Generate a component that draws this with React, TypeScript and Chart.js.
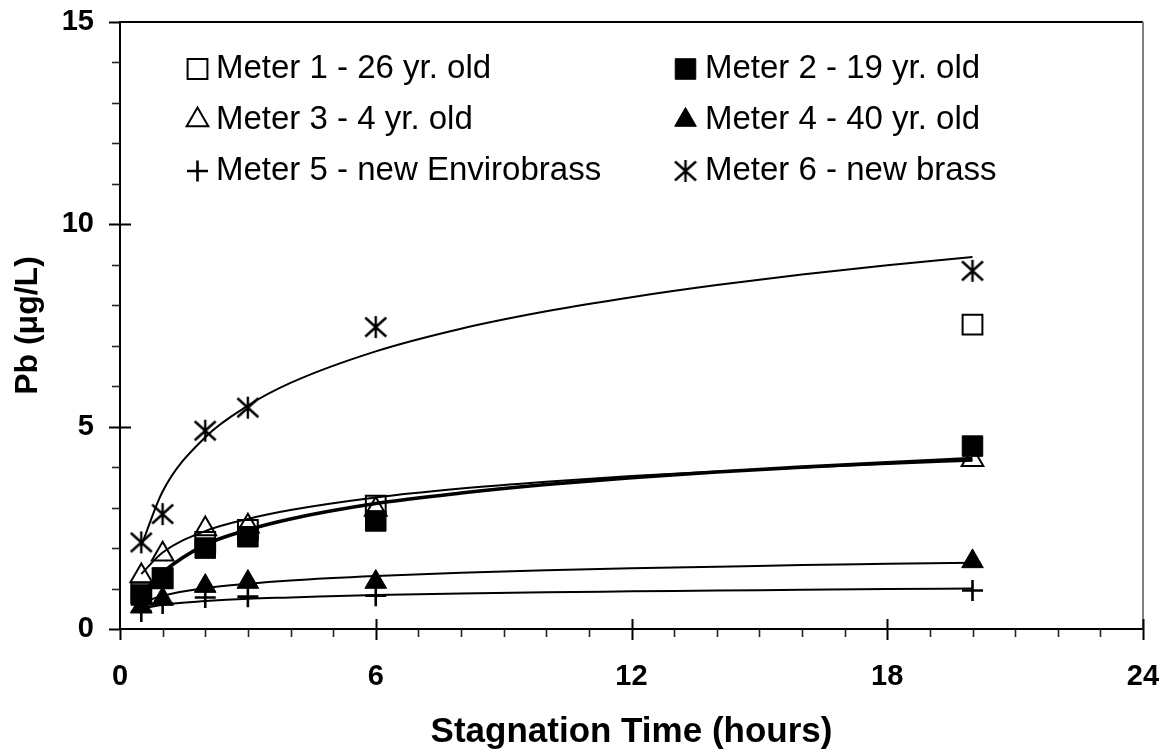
import React, { useEffect, useRef } from 'react';
import { Chart, registerables } from 'chart.js';
import { drawPoint } from 'chart.js/helpers';

Chart.register(...registerables);

// ---- data ----
const hours = [0.5, 1, 2, 3, 6, 20];
const meter1 = [0.9, 1.25, 2.15, 2.45, 3.05, 7.52];
const meter2 = [0.84, 1.26, 2.0, 2.28, 2.67, 4.52];
const meter3 = [1.31, 1.85, 2.47, 2.54, 2.95, 4.18];
const meter4 = [0.55, 0.74, 1.06, 1.16, 1.16, 1.67];
const meter5 = [0.43, 0.63, 0.78, 0.8, 0.82, 0.95];
const meter6 = [2.14, 2.84, 4.9, 5.47, 7.46, 8.85];

const trendHours = [0.5, 1, 2, 3, 4, 6, 8, 10, 12, 14, 16, 18, 20];
const trendMeter2 = [0.85, 1.4, 2.08, 2.45, 2.72, 3.1, 3.36, 3.57, 3.74, 3.88, 4.0, 4.11, 4.21];
const trendMeter3 = [1.36, 1.89, 2.42, 2.72, 2.94, 3.25, 3.47, 3.64, 3.78, 3.89, 3.99, 4.08, 4.16];
const trendMeter4 = [0.64, 0.82, 1.01, 1.12, 1.2, 1.31, 1.39, 1.45, 1.5, 1.54, 1.58, 1.61, 1.64];
const trendMeter5 = [0.5, 0.6, 0.69, 0.75, 0.78, 0.84, 0.88, 0.91, 0.93, 0.95, 0.97, 0.99, 1.0];
const trendMeter6 = [2.06, 3.4, 4.74, 5.52, 6.08, 6.86, 7.42, 7.85, 8.2, 8.5, 8.76, 8.99, 9.19];

const seriesNames = [
  'Meter 1 - 26 yr. old',
  'Meter 2 - 19 yr. old',
  'Meter 3 - 4 yr. old',
  'Meter 4 - 40 yr. old',
  'Meter 5 - new Envirobrass',
  'Meter 6 - new brass',
];

const xTitle = 'Stagnation Time (hours)';
const yTitle = 'Pb (\u03bcg/L)';
const xMin = 0, xMax = 24, xStep = 6;
const yMin = 0, yMax = 15, yStep = 5;

const FONT = 'Arial, "Liberation Sans", sans-serif';

function makeAsterisk(): HTMLCanvasElement {
  const c = document.createElement('canvas');
  c.width = 24;
  c.height = 24;
  const g = c.getContext('2d')!;
  g.strokeStyle = '#000';
  g.lineWidth = 2.4;
  g.beginPath();
  g.moveTo(12, 1); g.lineTo(12, 23);
  g.moveTo(1.5, 2.5); g.lineTo(22.5, 21.5);
  g.moveTo(22.5, 2.5); g.lineTo(1.5, 21.5);
  g.stroke();
  return c;
}

const toPts = (ys: number[], xs: number[]) => xs.map((x, i) => ({ x, y: ys[i] }));

const legendPlugin = {
  id: 'innerLegend',
  afterDatasetsDraw(chart: any) {
    const ctx = chart.ctx;
    const markerX = [197.5, 685.5];
    const textX = [216, 705];
    const rowY = [69, 120, 171];
    ctx.save();
    for (let i = 0; i < seriesNames.length; i++) {
      const col = i % 2;
      const row = Math.floor(i / 2);
      const ds = chart.data.datasets[i];
      ctx.fillStyle = ds.pointBackgroundColor;
      ctx.strokeStyle = '#000';
      ctx.lineWidth = ds.pointBorderWidth;
      drawPoint(ctx, {
        pointStyle: ds.pointStyle,
        radius: ds.pointRadius,
        rotation: 0,
        borderWidth: ds.pointBorderWidth,
      } as any, markerX[col], rowY[row]);
      ctx.fillStyle = '#000';
      ctx.font = `33px ${FONT}`;
      ctx.textAlign = 'left';
      ctx.textBaseline = 'middle';
      ctx.fillText(seriesNames[i], textX[col], rowY[row]);
    }
    ctx.restore();
  },
};

const axisDecor = {
  id: 'axisDecor',
  afterDraw(chart: any) {
    const ctx = chart.ctx;
    const { left, right, top, bottom } = chart.chartArea;
    const xs = chart.scales.x;
    const ys = chart.scales.y;
    ctx.save();
    // top and right frame
    ctx.strokeStyle = '#000';
    ctx.lineWidth = 2;
    ctx.beginPath();
    ctx.moveTo(left, top);
    ctx.lineTo(right, top);
    ctx.stroke();
    ctx.strokeStyle = '#808080';
    ctx.beginPath();
    ctx.moveTo(right, top);
    ctx.lineTo(right, bottom);
    ctx.stroke();
    // x ticks
    for (let v = xMin; v <= xMax; v += 1) {
      const px = Math.round(xs.getPixelForValue(v)) + 0.5;
      const major = v % xStep === 0;
      ctx.strokeStyle = major ? '#000' : '#222';
      ctx.lineWidth = major ? 2 : 1.6;
      ctx.beginPath();
      ctx.moveTo(px, major && v !== xMin ? bottom - 10 : bottom);
      ctx.lineTo(px, bottom + (major ? 11 : 8));
      ctx.stroke();
    }
    // y ticks
    for (let v = yMin; v <= yMax; v += 1) {
      const py = Math.round(ys.getPixelForValue(v)) + 0.5;
      const major = v % yStep === 0;
      ctx.strokeStyle = major ? '#000' : '#222';
      ctx.lineWidth = major ? 2 : 1.6;
      ctx.beginPath();
      ctx.moveTo(left - (major ? 11 : 8), py);
      ctx.lineTo(major && v !== yMin && v !== yMax ? left + 11 : left, py);
      ctx.stroke();
    }
    ctx.restore();
  },
};

export default function App() {
  const ref = useRef<HTMLCanvasElement | null>(null);

  useEffect(() => {
    if (!ref.current) return;
    const asterisk = makeAsterisk();
    const markerBase = { showLine: false, pointBorderColor: '#000' };
    const trendBase = {
      showLine: true,
      pointRadius: 0,
      borderColor: '#000',
      borderWidth: 2,
      cubicInterpolationMode: 'monotone' as const,
      fill: false,
    };
    const chart = new Chart(ref.current, {
      type: 'scatter',
      data: {
        datasets: [
          { ...markerBase, label: seriesNames[0], data: toPts(meter1, hours), pointStyle: 'rect', pointRadius: 14, pointBackgroundColor: 'rgba(0,0,0,0)', pointBorderWidth: 2 },
          { ...markerBase, label: seriesNames[1], data: toPts(meter2, hours), pointStyle: 'rect', pointRadius: 14.5, pointBackgroundColor: '#000', pointBorderWidth: 1 },
          { ...markerBase, label: seriesNames[2], data: toPts(meter3, hours), pointStyle: 'triangle', pointRadius: 12.5, pointBackgroundColor: 'rgba(0,0,0,0)', pointBorderWidth: 2 },
          { ...markerBase, label: seriesNames[3], data: toPts(meter4, hours), pointStyle: 'triangle', pointRadius: 12.5, pointBackgroundColor: '#000', pointBorderWidth: 1 },
          { ...markerBase, label: seriesNames[4], data: toPts(meter5, hours), pointStyle: 'cross', pointRadius: 10.5, pointBackgroundColor: '#000', pointBorderWidth: 2.6 },
          { ...markerBase, label: seriesNames[5], data: toPts(meter6, hours), pointStyle: asterisk, pointRadius: 11, pointBackgroundColor: '#000', pointBorderWidth: 2 },
          { ...trendBase, label: 'trend2', data: toPts(trendMeter2, trendHours), borderWidth: 3.6 },
          { ...trendBase, label: 'trend3', data: toPts(trendMeter3, trendHours) },
          { ...trendBase, label: 'trend4', data: toPts(trendMeter4, trendHours) },
          { ...trendBase, label: 'trend5', data: toPts(trendMeter5, trendHours) },
          { ...trendBase, label: 'trend6', data: toPts(trendMeter6, trendHours) },
        ] as any,
      },
      options: {
        animation: false,
        responsive: true,
        maintainAspectRatio: false,
        layout: { padding: { top: 22, right: 25, left: 0, bottom: 0 } },
        plugins: { legend: { display: false }, tooltip: { enabled: false } },
        scales: {
          x: {
            type: 'linear',
            min: xMin,
            max: xMax,
            grid: { display: false, drawTicks: true, tickLength: 25 },
            border: { display: true, color: '#000', width: 2 },
            ticks: {
              stepSize: xStep,
              color: '#000',
              font: { family: FONT, size: 29, weight: 'bold' },
              padding: 6,
              maxRotation: 0,
              autoSkip: false,
            },
            title: {
              display: true,
              text: xTitle,
              color: '#000',
              font: { family: FONT, size: 35, weight: 'bold' },
              padding: { top: 0, bottom: 2 },
            },
            afterFit: (s: any) => { s.height = 126; },
          },
          y: {
            type: 'linear',
            min: yMin,
            max: yMax,
            grid: { display: false, drawTicks: true, tickLength: 22 },
            border: { display: true, color: '#000', width: 2 },
            ticks: {
              stepSize: yStep,
              color: '#000',
              font: { family: FONT, size: 29, weight: 'bold' },
              padding: 4,
            },
            title: {
              display: true,
              text: yTitle,
              color: '#000',
              font: { family: FONT, size: 32, weight: 'bold' },
              padding: { top: 9, bottom: 0 },
            },
            afterFit: (s: any) => { s.width = 120; },
          },
        },
      } as any,
      plugins: [legendPlugin, axisDecor],
    });
    return () => chart.destroy();
  }, []);

  return (
    <div style={{ position: 'absolute', left: 0, top: 0, width: 1168, height: 755, background: '#fff' }}>
      <canvas ref={ref} />
    </div>
  );
}
